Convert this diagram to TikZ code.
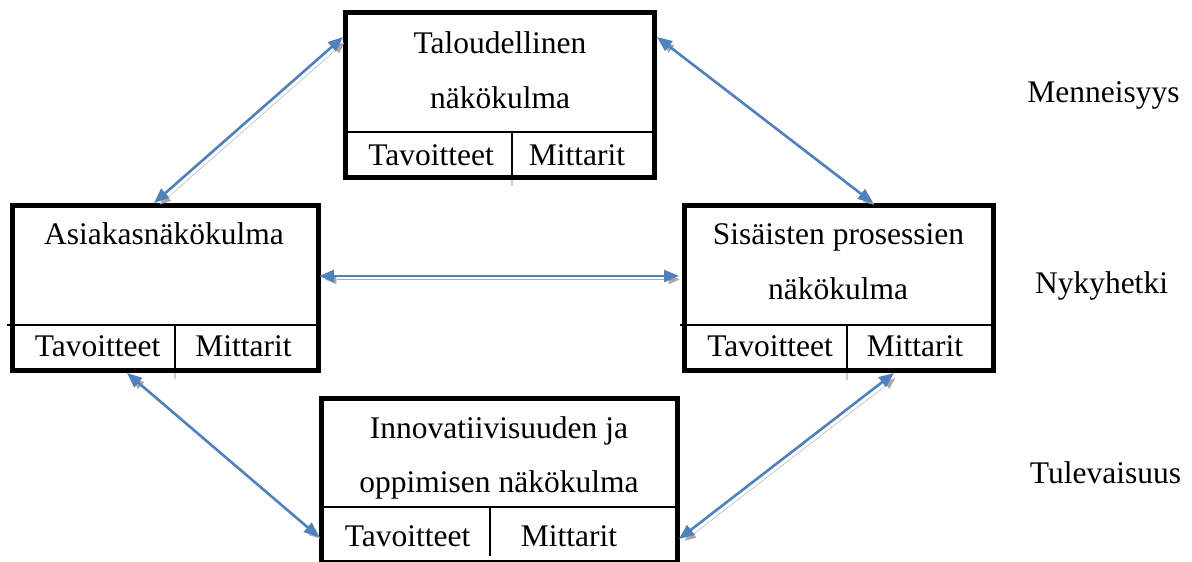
\documentclass[tikz,border=0pt]{standalone}
\usepackage{fontspec}
\setmainfont{Liberation Serif}
\usetikzlibrary{arrows.meta}
\definecolor{arrowblue}{HTML}{4F81BD}
\definecolor{shadowgray}{HTML}{A8A8A8}
\begin{document}
\begin{tikzpicture}[x=1pt,y=-1pt,
  box/.style={draw=black, line width=5pt, rectangle, minimum width=#1, outer sep=0pt, inner sep=0pt},
  divline/.style={draw=black, line width=2pt},
  tickline/.style={draw=black!20, line width=2pt},
  txt/.style={anchor=base, inner sep=0pt, font=\fontsize{31.5}{38}\selectfont},
  conn/.style={draw=arrowblue, line width=2.6pt, {Triangle[length=15pt,width=12pt]}-{Triangle[length=15pt,width=12pt]},
     shorten <=0pt, shorten >=0pt,
     preaction={draw=shadowgray, transform canvas={shift={(3.5pt,-3.5pt)}}}}
]
\useasboundingbox (0,0) rectangle (1192,562);
\fill[white] (0,0) rectangle (1192,562);

% boxes
\node[box=309.5pt, minimum height=165pt] (tal) at (499.75,95) {};
\node[box=306.5pt, minimum height=165.5pt] (asi) at (165.25,287.75) {};
\node[box=309.5pt, minimum height=165pt] (sis) at (838.75,288) {};
\node[box=356pt, minimum height=164pt] (inn) at (499.5,480) {};

% dividers
\draw[divline] (345,132) -- (654.5,132);
\draw[divline] (512,132) -- (512,177.5);
\draw[tickline] (512,180) -- (512,186);
\draw[divline] (7,325) -- (318.5,325);
\draw[divline] (175,325) -- (175,370.5);
\draw[tickline] (175,373) -- (175,379);
\draw[divline] (680,325) -- (993.5,325);
\draw[divline] (847,325) -- (847,370.5);
\draw[tickline] (847,373) -- (847,380);
\draw[divline] (321.5,507) -- (677.5,507);
\draw[divline] (489.5,507) -- (489.5,556);

% texts
\node[txt] (t1) at (500,53) {Taloudellinen};
\node[txt] (t2) at (500,108) {näkökulma};
\node[txt] (t3) at (431,165) {Tavoitteet};
\node[txt] (t4) at (577,165) {Mittarit};

\node[txt] (a1t) at (164,244) {Asiakasnäkökulma};
\node[txt] (a3t) at (97.5,356) {Tavoitteet};
\node[txt] (a4t) at (243.5,356) {Mittarit};

\node[txt] (s1) at (838.5,244) {Sisäisten prosessien};
\node[txt] (s2) at (838,299) {näkökulma};
\node[txt] (s3) at (770,356) {Tavoitteet};
\node[txt] (s4) at (915,356) {Mittarit};

\node[txt] (i1) at (499,438) {Innovatiivisuuden ja};
\node[txt] (i2) at (499,492) {oppimisen näkökulma};
\node[txt] (i3) at (407.5,546) {Tavoitteet};
\node[txt] (i4) at (569,546) {Mittarit};

% time labels
\node[txt] (men) at (1103.5,102) {Menneisyys};
\node[txt] (nyk) at (1101.5,293) {Nykyhetki};
\node[txt] (tul) at (1105.5,483) {Tulevaisuus};

% connector end points
\coordinate (pa1) at (343,37);
\coordinate (pa2) at (154,203);
\coordinate (pb1) at (657,37);
\coordinate (pb2) at (873,203);
\coordinate (pc1) at (319,276);
\coordinate (pc2) at (679,276);
\coordinate (pd1) at (127,373);
\coordinate (pd2) at (319,537);
\coordinate (pe1) at (894,373);
\coordinate (pe2) at (679,539);

% connectors
\draw[conn] (pa2) -- (pa1);
\draw[conn] (pb1) -- (pb2);
\draw[conn] (pc1) -- (pc2);
\draw[conn] (pd1) -- (pd2);
\draw[conn] (pe2) -- (pe1);
\end{tikzpicture}
\end{document}
